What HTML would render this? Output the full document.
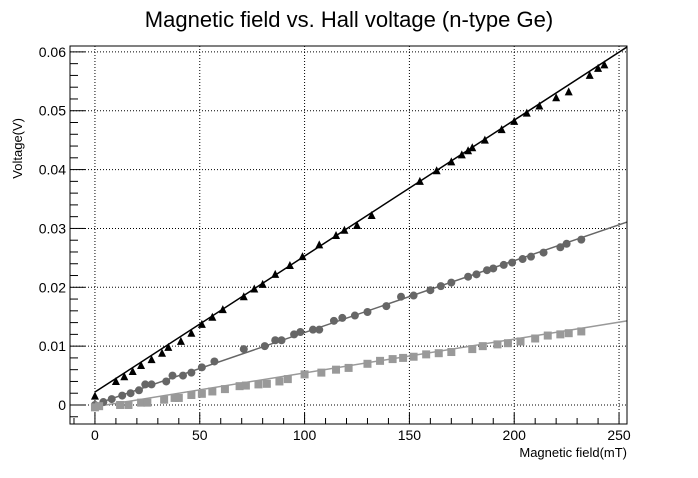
<!DOCTYPE html>
<html><head><meta charset="utf-8"><style>
body{margin:0;background:#fff;}
svg text{font-family:"Liberation Sans",sans-serif;}
</style></head><body>
<svg id="chart" width="698" height="473" viewBox="0 0 698 473" xmlns="http://www.w3.org/2000/svg">
<rect width="698" height="473" fill="#fff"/>
<text x="349" y="27" font-size="22" text-anchor="middle">Magnetic field vs. Hall voltage (n-type Ge)</text>
<text transform="translate(22,118) rotate(-90)" font-size="13" text-anchor="end">Voltage(V)</text>
<text x="627" y="457" font-size="13" text-anchor="end">Magnetic field(mT)</text>
<g id="grid"></g><g id="fits"></g><g id="marks"></g><g id="axes"></g>
</svg>
<script>
const xTicks=[0,50,100,150,200,250];
const yTicks=[0,0.01,0.02,0.03,0.04,0.05,0.06];
const yTickLabels=["0","0.01","0.02","0.03","0.04","0.05","0.06"];
const triX=[0,10,14,18,22,27,32,35,41,46,51,56,61,71,76,80,86,93,99,107,115,119,125,132,155,163,170,175,178,180,186,194,200,206,212,220,226,236,240,243];
const triY=[0.0015,0.0040,0.0048,0.0057,0.0067,0.0077,0.0088,0.0098,0.0108,0.0122,0.0137,0.0149,0.0162,0.0184,0.0197,0.0205,0.0222,0.0237,0.0252,0.0272,0.0288,0.0297,0.0305,0.0322,0.0380,0.0398,0.0413,0.0425,0.0432,0.0437,0.0450,0.0468,0.0482,0.0496,0.0508,0.0522,0.0532,0.0560,0.0572,0.0578];
const cirX=[0,4,8,13,17,21,24,27,34,37,42,46,51,57,71,81,86,89,95,98,104,107,114,118,124,130,139,146,152,160,165,170,178,182,187,190,195,199,204,208,214,222,225,232];
const cirY=[0,0.0005,0.001,0.0016,0.002,0.0025,0.0035,0.0035,0.004,0.005,0.005,0.0055,0.0064,0.0074,0.0095,0.010,0.011,0.011,0.012,0.0124,0.0128,0.0128,0.0143,0.0148,0.0152,0.0158,0.0168,0.0184,0.0186,0.0195,0.0202,0.0208,0.0218,0.0222,0.0229,0.0232,0.0238,0.0242,0.0248,0.0252,0.0259,0.0268,0.0274,0.0281];
const sqX=[0,2,12,16,22,25,33,38,40,46,51,56,62,69,72,78,82,88,92,100,108,115,121,130,136,142,147,152,158,164,170,180,185,192,197,203,210,216,222,226,232];
const sqY=[-0.0004,-0.0002,0,0,0.0004,0.0004,0.0009,0.0012,0.0012,0.0017,0.0019,0.0023,0.0027,0.0032,0.0033,0.0035,0.0036,0.0040,0.0044,0.0052,0.0055,0.0060,0.0063,0.0070,0.0075,0.0078,0.0080,0.0082,0.0086,0.0088,0.0090,0.0095,0.0100,0.0103,0.0105,0.0108,0.0113,0.0118,0.0120,0.0122,0.0125];
const fitIntercepts=[0.0022,0.0001,-0.0003];
const fitSlopes=[0.000231,0.0001221,0.0000575];

const L=70,R=627,T=46,B=424,XMIN=-11.9,XMAX=253.8,YMIN=-0.00323,YMAX=0.061;
const sx=v=>L+(v-XMIN)/(XMAX-XMIN)*(R-L);
const sy=v=>B-(v-YMIN)/(YMAX-YMIN)*(B-T);
const NS="http://www.w3.org/2000/svg";
function mk(tag,parent,attrs){const e=document.createElementNS(NS,tag);for(const k in attrs)e.setAttribute(k,attrs[k]);document.getElementById(parent).appendChild(e);return e;}
xTicks.forEach(t=>{const e=mk('line','grid',{x1:sx(t),x2:sx(t),y1:T,y2:B,stroke:'#000','stroke-dasharray':'1,2','stroke-width':1});

});
yTicks.forEach(t=>{const e=mk('line','grid',{x1:L,x2:R,y1:sy(t),y2:sy(t),stroke:'#000','stroke-dasharray':'1,2','stroke-width':1});

});
const fitColors=['#000','#666','#999'];
fitSlopes.forEach((s,i)=>{const x0=0,x1=XMAX;const e=mk('line','fits',{x1:sx(x0),y1:sy(fitIntercepts[i]+s*x0),x2:sx(x1),y2:sy(fitIntercepts[i]+s*x1),stroke:fitColors[i],'stroke-width':1.5});

});
triX.forEach((x,i)=>{const cx=sx(x),cy=sy(triY[i]);const e=mk('polygon','marks',{points:`${cx-4},${cy+3.5} ${cx+4},${cy+3.5} ${cx},${cy-4.5}`,fill:'#000'});

});
cirX.forEach((x,i)=>{const e=mk('circle','marks',{cx:sx(x),cy:sy(cirY[i]),r:4,fill:'#666'});

});
sqX.forEach((x,i)=>{const e=mk('rect','marks',{x:sx(x)-4,y:sy(sqY[i])-4,width:8,height:8,fill:'#999'});

});
const fr=mk('rect','axes',{x:L,y:T,width:R-L,height:B-T,fill:'none',stroke:'#000','stroke-width':1});


for(let v=-10;v<=250;v+=10){const major=v%50===0;mk('line','axes',{x1:sx(v),x2:sx(v),y1:B,y2:B-(major?11:6),stroke:'#000'});}
for(let k=-1;k<=30;k++){const v=k*0.002;if(v>YMAX)break;const major=k%5===0;mk('line','axes',{x1:L,x2:L+(major?15:8),y1:sy(v),y2:sy(v),stroke:'#000'});}
xTicks.forEach(t=>{const e=mk('text','axes',{x:sx(t),y:B+16,'font-size':14,'text-anchor':'middle'});e.textContent=t;

});
yTicks.forEach((t,i)=>{const e=mk('text','axes',{x:L-4,y:sy(t)+5,'font-size':14,'text-anchor':'end'});e.textContent=yTickLabels[i];

});
</script>
</body></html>
